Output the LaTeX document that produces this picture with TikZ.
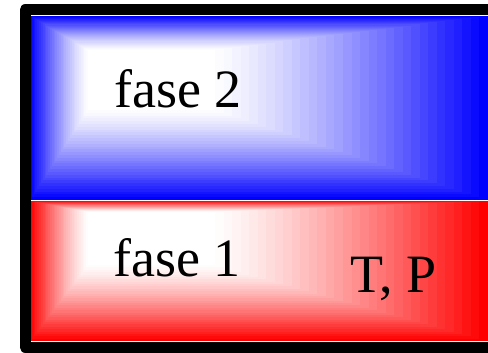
\documentclass[tikz,border=0pt]{standalone}
\usepackage{fontspec}
\setmainfont{Liberation Serif}
\begin{document}
\begin{tikzpicture}[x=1pt,y=-1pt,
  lbl/.style={anchor=base,inner sep=0pt,font=\fontsize{54}{60}\selectfont},
  frame/.style={line width=11pt,line join=round,draw=black}]
\useasboundingbox (0,0) rectangle (488,353);
% phase 2 (blue): nested rectangles from edge colour to white centre
\foreach \i in {0,...,32}{
  \pgfmathsetmacro\t{\i/32}
  \pgfmathsetmacro\p{100*(1-\t)^1.3}
  \fill[blue!\p!white] ({30+\t*(88-30)},{16+\t*(50-16)}) rectangle ({488+\t*(215-488)},{200+\t*(110-200)});
}
% phase 1 (red)
\foreach \i in {0,...,32}{
  \pgfmathsetmacro\t{\i/32}
  \pgfmathsetmacro\p{100*(1-\t)^1.3}
  \fill[red!\p!white] ({30+\t*(88-30)},{201+\t*(212-201)}) rectangle ({488+\t*(215-488)},{341+\t*(265-341)});
}
% container
\coordinate (tr) at (488,10);
\coordinate (tl) at (25,10);
\coordinate (bl) at (25,347);
\coordinate (br) at (488,347);
\draw[frame] (tr) -- (tl) -- (bl) -- (br);
% labels
\node[lbl] (f2) at (178,108) {fase 2};
\node[lbl] (f1) at (177,276) {fase 1};
\node[lbl] (tp) at (394,292) {T, P};
\end{tikzpicture}
\end{document}
